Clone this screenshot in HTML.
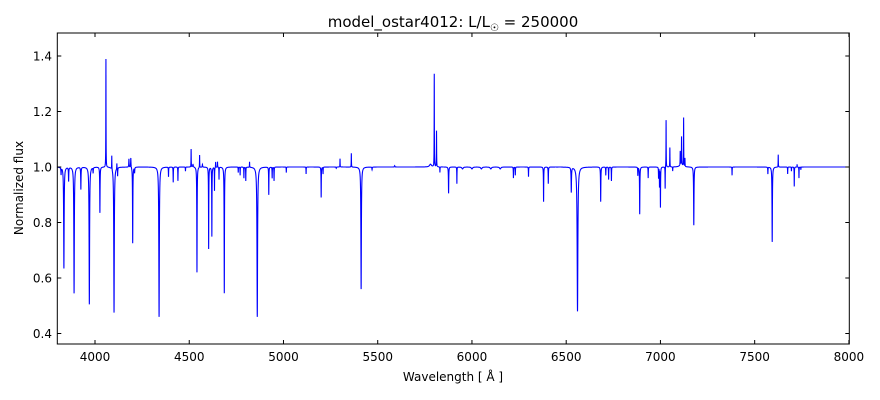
<!DOCTYPE html>
<html><head><meta charset="utf-8"><style>
html,body{margin:0;padding:0;background:#fff;width:880px;height:400px;overflow:hidden}
svg{display:block}
svg text{font-family:"DejaVu Sans","Liberation Sans",sans-serif}
</style></head><body>
<svg id="s" width="880" height="400" xmlns="http://www.w3.org/2000/svg">
<rect width="880" height="400" fill="#fff"/>
<defs><clipPath id="c"><rect x="57.3" y="33" width="792" height="311"/></clipPath></defs>
<path id="spec" d="" fill="none" stroke="#0000ff" stroke-width="1.1" clip-path="url(#c)"/>
<rect x="57.3" y="33" width="792" height="311" fill="none" stroke="#000" stroke-width="1"/>
<g id="ticks" stroke="#000" stroke-width="1"></g>
<g id="labels" font-size="12" fill="#000"></g>
<text x="453" y="27" font-size="15" text-anchor="middle">model_ostar4012: L/L<tspan font-size="10" dy="4">☉</tspan><tspan dy="-4"> = 250000</tspan></text>
<text x="453" y="381" font-size="12" text-anchor="middle">Wavelength [ Å ]</text>
<text transform="translate(23,188) rotate(-90)" font-size="12" text-anchor="middle">Normalized flux</text>
</svg>
<script>
function X(w){return 57.3+(w-3800)*0.18848;}
function Y(v){return 167-(v-1)*277.5;}
var t=document.getElementById('ticks'),L=document.getElementById('labels'),h='',l='';
for(var w=4000;w<=8000;w+=500){var x=X(w);h+='<line x1="'+x+'" y1="344" x2="'+x+'" y2="340"/><line x1="'+x+'" y1="33" x2="'+x+'" y2="37"/>';
l+='<text x="'+x+'" y="361" text-anchor="middle">'+w+'</text>';}
for(var k=0;k<6;k++){var v=0.4+0.2*k,y=Y(v);h+='<line x1="57.3" y1="'+y+'" x2="61.3" y2="'+y+'"/><line x1="849.3" y1="'+y+'" x2="845.3" y2="'+y+'"/>';
l+='<text x="52" y="'+(y+4.5)+'" text-anchor="end">'+v.toFixed(1)+'</text>';}
t.innerHTML=h;L.innerHTML=l;
var lines=[
[3835,0.635,1.5],[3889,0.545,1.5],[3970,0.505,1.5],[3820,0.975,1],[3860,0.95,1],[3925,0.92,1],[3990,0.98,1],
[4026,0.835,1],[4058,1.39,0.6],[4089,1.05,0.6],[4101,0.475,1.6],[4116,1.02,0.6],[4120,0.97,0.8],
[4180,1.03,1],[4190,1.035,1],[4200,0.725,1],[4210,0.98,1],
[4340,0.46,1.6],[4390,0.965,0.7],[4415,0.945,0.7],[4440,0.95,0.7],[4480,0.985,0.7],
[4510,1.065,0.6],[4520,1.01,2],[4541,0.62,1],[4555,1.045,0.6],[4570,1.01,1],
[4603,0.705,0.8],[4620,0.75,0.8],[4634,0.915,0.6],[4640,1.02,0.6],[4650,1.02,0.6],[4658,0.955,0.6],
[4686,0.545,1],[4760,0.98,0.6],[4770,0.97,0.6],[4790,0.96,0.6],[4800,0.95,0.6],[4820,1.02,0.6],
[4861,0.46,1.8],[4922,0.9,0.8],[4940,0.96,0.7],[4950,0.95,0.7],[5015,0.98,0.6],
[5120,0.975,0.6],[5200,0.89,0.8],[5210,0.975,0.6],[5280,0.995,1],[5300,1.03,0.6],[5360,1.05,0.6],[5412,0.56,1.5],[5470,0.99,1],
[5590,1.005,1],[5780,1.01,6],[5800,1.335,0.6],[5812,1.13,0.6],[5830,0.98,0.6],[5876,0.905,1],[5920,0.94,0.6],
[5950,0.993,4],[6000,0.993,4],[6050,0.993,4],[6100,0.993,4],[6150,0.993,4],
[6220,0.96,0.7],[6230,0.97,0.7],[6300,0.965,0.7],[6380,0.875,0.8],[6405,0.94,0.8],
[6527,0.91,1.2],[6560,0.48,2.2],[6683,0.875,1],[6710,0.97,0.7],[6725,0.955,0.7],[6740,0.95,0.7],
[6880,0.97,0.7],[6890,0.83,1],[6935,0.96,0.7],[6990,0.96,0.7],[6995,0.93,0.7],[7000,0.855,0.8],
[7025,0.92,0.6],[7030,1.17,0.6],[7050,1.07,0.6],[7065,0.985,0.6],[7110,1.01,8],[7105,1.05,0.6],[7112,1.1,0.6],[7123,1.175,0.6],[7130,1.03,0.6],
[7177,0.79,1.2],[7380,0.97,0.6],[7570,0.975,0.7],[7593,0.73,1.2],[7625,1.045,0.6],
[7675,0.975,0.6],[7695,0.985,0.6],[7710,0.93,0.6],[7725,1.01,0.6],[7735,0.96,0.6],[7745,0.99,0.6]
];
var d='',first=true;
for(var w=3795;w<=8005;w+=0.25){var f=1;
for(var i=0;i<lines.length;i++){var c=lines[i],dx=w-c[0];if(Math.abs(dx)>80)continue;var g=c[2];f+=(c[1]-1)*g*g/(dx*dx+g*g);}
d+=(first?'M':'L')+X(w).toFixed(2)+' '+Y(f).toFixed(2);first=false;}
document.getElementById('spec').setAttribute('d',d);
</script>
</body></html>
